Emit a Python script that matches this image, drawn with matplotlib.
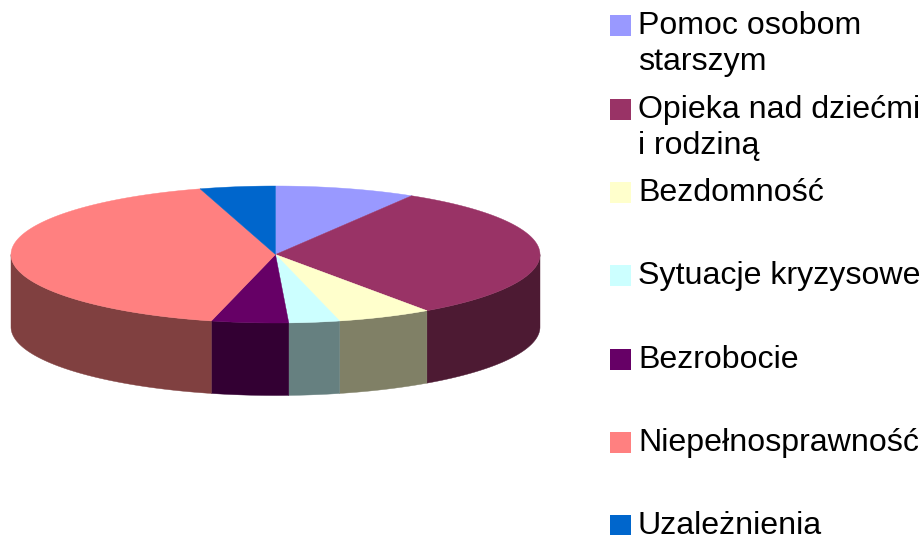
#!/usr/bin/env python3

import numpy as np
import matplotlib
matplotlib.use("Agg")
import matplotlib.pyplot as plt

labels = ["Pomoc osobom\nstarszym", "Opieka nad dziećmi\ni rodziną", "Bezdomność",
          "Sytuacje kryzysowe", "Bezrobocie", "Niepełnosprawność", "Uzależnienia"]
values = [8.6, 31.7, 5.8, 3.1, 4.7, 41.5, 4.6]
colors = ["#9999FF", "#993366", "#FFFFCC", "#CCFFFF", "#660066", "#FF8080", "#0066CC"]
sides = ["#4D4D80", "#4D1A33", "#808066", "#668080", "#330033", "#804040", "#003366"]
legend_y = [24, 108, 191, 274, 358, 441, 524]

cx, cy = 275.5, 254.5
rx, ry = 264.5, 68.5
depth = 72.5

def rim(a0, a1):
    t = np.radians(np.linspace(a0, a1, 200))
    return cx + rx * np.sin(t), cy - ry * np.cos(t)

def main():
    plt.rcParams['font.family'] = ['Liberation Sans', 'DejaVu Sans']
    fig = plt.figure(figsize=(9.24, 5.35), dpi=100)
    ax = fig.add_axes([0, 0, 1, 1])
    ax.set_xlim(0, 924)
    ax.set_ylim(535, 0)
    ax.axis('off')

    edges = np.concatenate([[0], np.cumsum(values)]) / sum(values) * 360

    # side walls: only the front half of the ellipse (90..270 deg) is visible
    for i in range(len(values)):
        a0, a1 = max(edges[i], 90), min(edges[i + 1], 270)
        if a1 > a0:
            x, y = rim(a0, a1)
            ax.fill(np.r_[x, x[::-1]], np.r_[y, y[::-1] + depth],
                    color=sides[i], lw=0.3, zorder=2)

    # top of the pie
    for i in range(len(values)):
        x, y = rim(edges[i], edges[i + 1])
        ax.fill(np.r_[cx, x], np.r_[cy, y], color=colors[i], lw=0.3, zorder=3)

    # legend
    for lab, col, y in zip(labels, colors, legend_y):
        ax.fill([610, 631, 631, 610], [y - 9, y - 9, y + 12, y + 12], color=col, lw=0, zorder=3)
        ax.text(638, y - 13, lab, fontsize=23.1, color="black", va='top', ha='left',
                linespacing=1.26, zorder=4)

    fig.savefig("out.png", dpi=100)

if __name__ == "__main__":
    main()
